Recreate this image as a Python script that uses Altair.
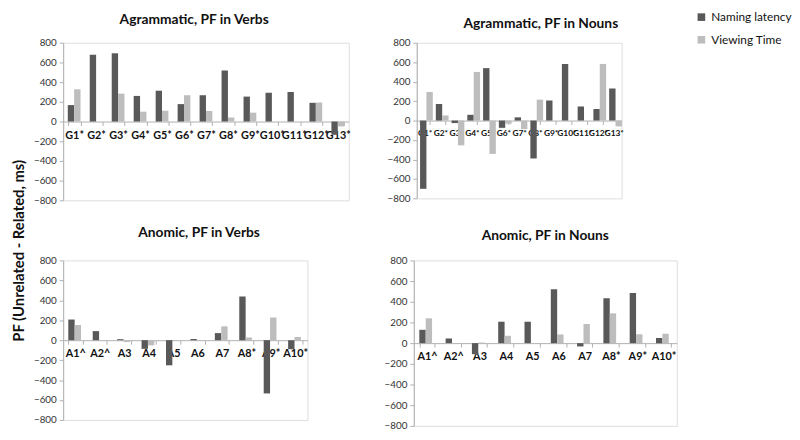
import altair as alt
import pandas as pd

cats_g = ["G1*", "G2*", "G3*", "G4*", "G5*", "G6*", "G7*", "G8*", "G9*", "G10*", "G11*", "G12*", "G13*"]
cats_a = ["A1^", "A2^", "A3", "A4", "A5", "A6", "A7", "A8*", "A9*", "A10*"]

series = ["Naming latency", "Viewing Time"]
colors = ["#595959", "#bdbdbd"]

g_verbs_nl = [167, 677, 693, 260, 313, 177, 267, 517, 253, 293, 300, 190, -135]
g_verbs_vt = [327, 0, 283, 100, 110, 267, 107, 40, 90, 0, 0, 193, -50]

g_nouns_nl = [-702, 170, -26, 59, 539, -75, 33, -390, 206, 582, 144, 118, 330]
g_nouns_vt = [294, 52, -255, 500, -343, -33, -88, 215, 0, 0, 0, 582, -60]

a_verbs_nl = [207, 91, 10, -87, -252, 13, 71, 437, -534, -91]
a_verbs_vt = [152, 0, -19, -52, 0, 3, 139, 26, 227, 32]

a_nouns_nl = [129, 45, -107, 207, 207, 521, -32, 434, 485, 49]
a_nouns_vt = [240, 0, 6, 71, 0, 84, 184, 288, 87, 91]

yticks = list(range(-800, 801, 200))
FONT = "Lato"


def panel(title, cats, nl, vt, w, h, toff, lfs, tdx):
    df = pd.DataFrame({
        "cat": cats * 2,
        "series": [series[0]] * len(cats) + [series[1]] * len(cats),
        "value": nl + vt,
    })
    return alt.Chart(df).mark_bar().encode(
        x=alt.X("cat:N", sort=cats,
                scale=alt.Scale(paddingInner=0.42, paddingOuter=0.21),
                axis=alt.Axis(title=None, orient="bottom", offset=-h / 2, labelAngle=0,
                              tickBand="extent", domainColor="#b0b0b0", tickColor="#b0b0b0",
                              tickSize=4, labelFont=FONT, labelFontWeight="bold",
                              labelFontSize=lfs, labelColor="#111111", labelPadding=4,
                              labelOverlap=False)),
        xOffset=alt.XOffset("series:N", sort=series, scale=alt.Scale(paddingInner=0, paddingOuter=0)),
        y=alt.Y("value:Q", scale=alt.Scale(domain=[-800, 800], nice=False),
                axis=alt.Axis(title=None, values=yticks, grid=False, domainColor="#b0b0b0",
                              tickColor="#b0b0b0", tickSize=4, labelFont=FONT, labelFontSize=10,
                              labelColor="#333333", labelPadding=3)),
        color=alt.Color("series:N", sort=series,
                        scale=alt.Scale(domain=series, range=colors),
                        legend=alt.Legend(title=None, orient="none", legendX=642, legendY=-32,
                                          padding=0, symbolType="square", symbolSize=60,
                                          labelFont=FONT, labelFontSize=12, labelColor="#111111",
                                          rowPadding=11, symbolStrokeWidth=0)),
    ).properties(
        width=w, height=h,
        title=alt.Title(title, font=FONT, fontSize=14, fontWeight="bold", color="#111111",
                        offset=toff, dx=tdx),
    )


p1 = panel("Agrammatic, PF in Verbs", cats_g, g_verbs_nl, g_verbs_vt, 290, 160, 11, 11, -12)
p2 = panel("Agrammatic, PF in Nouns", cats_g, g_nouns_nl, g_nouns_vt, 208, 158, 7, 8.5, 22)
p3 = panel("Anomic, PF in Verbs", cats_a, a_verbs_nl, a_verbs_vt, 248, 162, 16, 11, 14)
p4 = panel("Anomic, PF in Nouns", cats_a, a_nouns_nl, a_nouns_vt, 267, 168, 13, 11, 0)

row1 = alt.hconcat(p1, p2, spacing=35)
row2 = alt.hconcat(p3, p4, spacing=76)

chart = alt.vconcat(row1, row2, spacing=19).properties(
    title=alt.Title("PF (Unrelated - Related, ms)", orient="left", anchor="middle",
                    font=FONT, fontSize=15, fontWeight="bold", color="#111111", offset=6, dx=-30),
).configure_view(strokeWidth=0).configure(padding={"left": 4, "top": 0, "right": 0, "bottom": 0})

chart.save("out.html", embed_options={"renderer": "svg", "actions": False})
